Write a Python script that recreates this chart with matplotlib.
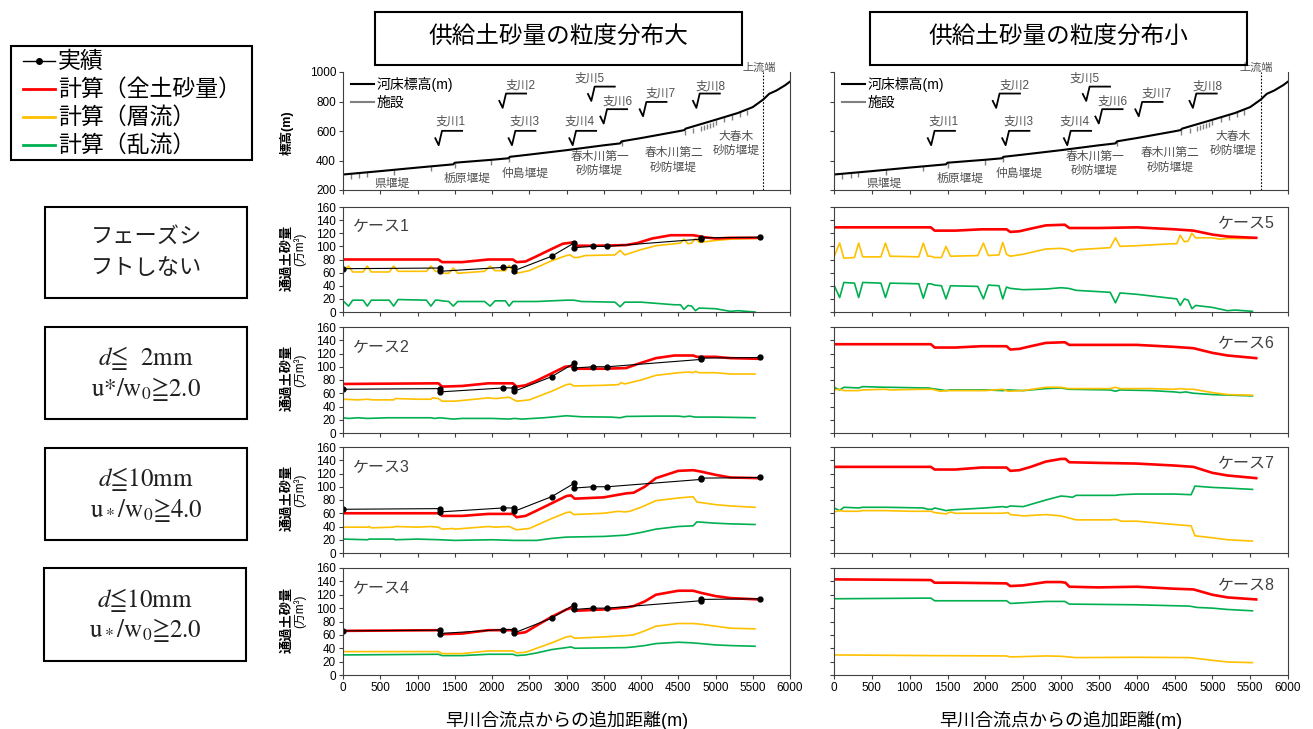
import matplotlib
matplotlib.use("Agg")
import matplotlib.pyplot as plt
from matplotlib.lines import Line2D
from matplotlib.patches import Rectangle

plt.rcParams['font.family'] = ['Liberation Sans', 'Noto Sans CJK JP', 'DejaVu Sans']
plt.rcParams['mathtext.fontset'] = 'stix'

W, H = 1313, 729
RED, YEL, GRN, GRAY = '#ff0000', '#ffc000', '#00b050', '#808080'

# ---- river profile (top panels) ----
bed = [(0, 305), (500, 328), (1000, 352), (1480, 374), (1500, 385), (2000, 405), (2220, 415),
       (2240, 425), (2500, 440), (3000, 470), (3500, 503), (3720, 516), (3740, 530), (4000, 552),
       (4500, 598), (4580, 606), (4600, 616), (5000, 676), (5300, 722), (5500, 762), (5640, 813),
       (5720, 852), (5820, 875), (5940, 912), (6000, 935)]
fac_x = [110, 220, 320, 690, 1180, 1500, 1990, 2230, 3740, 4590, 4700, 4800, 4840, 4880,
         4920, 4960, 5000, 5110, 5220, 5330, 5420]
fac_z = [310, 315, 320, 337, 361, 385, 405, 425, 530, 606, 622, 637, 643, 649, 655, 661,
         676, 693, 710, 728, 745]
upstream_end = 5640
branches = [('支川1', 1284, 504, 1450, 662), ('支川2', 2143, 757, 2389, 910),
            ('支川3', 2268, 504, 2434, 662), ('支川4', 3083, 504, 3177, 662),
            ('支川5', 3333, 804, 3306, 955), ('支川6', 3499, 651, 3687, 797),
            ('支川7', 4027, 700, 4264, 854), ('支川8', 4743, 757, 4935, 899)]
weirs = [('県堰堤', 658, 245), ('栃原堰堤', 1664, 279), ('仲島堰堤', 2447, 308),
         ('春木川第一\n砂防堰堤', 3445, 375), ('春木川第二\n砂防堰堤', 4438, 400),
         ('大春木\n砂防堰堤', 5280, 512)]

# ---- observed sediment (cases 1-4) ----
obs = [(0, 66), (1300, 67), (1300, 62), (2150, 68), (2300, 68), (2300, 63), (2800, 85),
       (3100, 105), (3100, 98), (3350, 100), (3550, 100), (4800, 111), (4800, 113), (5600, 114)]

# ---- computed: total (red), laminar (yellow), turbulent (green) ----
red1 = [(0, 80), (1280, 80), (1330, 76), (1600, 76), (1950, 80), (2280, 80), (2330, 76), (2450, 77),
        (2600, 85), (2800, 96), (2950, 104), (3080, 106), (3120, 101), (3400, 101), (3800, 102),
        (3950, 105), (4150, 112), (4400, 117), (4700, 117), (4850, 114), (5000, 112), (5200, 113), (5580, 113)]
yel1 = [(0, 63), (75, 70), (130, 61), (270, 61), (326, 70), (380, 61), (620, 61), (680, 70), (740, 62),
        (1120, 62), (1180, 70), (1240, 62), (1280, 62), (1330, 59), (1420, 59), (1480, 67), (1540, 59),
        (1900, 62), (1975, 70), (2040, 63), (2180, 63), (2230, 71), (2280, 62), (2330, 59), (2500, 63),
        (2800, 78), (3000, 86), (3050, 87), (3100, 83), (3150, 83), (3250, 86), (3650, 87), (3720, 94),
        (3780, 87), (4000, 95), (4200, 101), (4450, 104), (4530, 105), (4575, 111), (4630, 104),
        (4680, 105), (4730, 112), (4780, 106), (5000, 109), (5200, 111), (5530, 112)]
grn1 = [(0, 17), (75, 9), (130, 18), (270, 18), (326, 9), (380, 18), (620, 18), (680, 9), (740, 19),
        (1120, 18), (1180, 9), (1240, 18), (1280, 18), (1330, 17), (1420, 16), (1480, 9), (1540, 16),
        (1900, 16), (1975, 9), (2040, 17), (2180, 17), (2230, 9), (2280, 16), (2330, 16), (2600, 16),
        (2800, 17), (3000, 18), (3100, 18), (3200, 16), (3650, 15), (3720, 8), (3780, 15), (4000, 15),
        (4450, 11), (4530, 11), (4575, 4), (4630, 10), (4680, 9), (4730, 2), (4780, 6), (5000, 5),
        (5200, 1), (5300, 2), (5530, 0)]

red2 = [(0, 74), (1280, 75), (1330, 70), (1600, 71), (1950, 75), (2280, 75), (2330, 70), (2450, 72),
        (2600, 79), (2800, 90), (2980, 100), (3060, 101), (3110, 97), (3500, 97), (3800, 98), (3950, 104),
        (4200, 113), (4450, 117), (4700, 117), (4750, 115), (5000, 115), (5200, 113), (5580, 112)]
yel2 = [(0, 51), (200, 50), (330, 51), (400, 50), (680, 50), (700, 52), (1000, 51), (1180, 51),
        (1200, 53), (1280, 52), (1330, 48), (1500, 48), (1950, 53), (2050, 52), (2230, 54), (2330, 48),
        (2500, 50), (2800, 63), (3000, 73), (3050, 74), (3100, 71), (3500, 72), (3700, 73), (3730, 76),
        (3780, 74), (4000, 80), (4200, 87), (4500, 91), (4650, 92), (4700, 91), (4730, 93), (4780, 91),
        (5000, 91), (5200, 89), (5530, 89)]
grn2 = [(0, 23), (75, 22), (200, 23), (326, 22), (600, 23), (1180, 23), (1230, 22), (1300, 23),
        (1480, 21), (1600, 22), (2000, 22), (2230, 21), (2300, 22), (2400, 21), (2700, 23), (3000, 26),
        (3200, 24.5), (3600, 24), (3720, 23), (3800, 25), (4200, 25.5), (4500, 25.5), (4580, 24.5),
        (4650, 25.5), (4730, 24), (5000, 24), (5530, 23)]

red3 = [(0, 60), (1280, 60), (1330, 56), (1600, 56), (1950, 59), (2280, 59), (2330, 54), (2450, 56),
        (2600, 64), (2800, 75), (3000, 86), (3060, 87), (3110, 82), (3500, 84), (3800, 90), (3900, 91),
        (4050, 100), (4200, 113), (4500, 124), (4700, 125), (4800, 123), (5000, 118), (5200, 114), (5580, 113)]
yel3 = [(0, 39), (330, 39), (350, 40), (380, 38), (680, 39), (700, 40), (1000, 39), (1180, 40),
        (1280, 39), (1330, 36), (1480, 37), (1500, 36), (1950, 40), (2050, 39), (2230, 40), (2330, 35),
        (2500, 37), (2600, 42), (2800, 52), (3000, 61), (3050, 62), (3100, 58), (3500, 60), (3700, 63),
        (3780, 62), (3850, 63), (4000, 69), (4200, 79), (4500, 83), (4700, 85), (4750, 77), (5000, 73),
        (5200, 71), (5530, 69)]
grn3 = [(0, 21), (330, 20), (350, 21), (680, 21), (700, 20), (1000, 21), (1300, 20), (1500, 19),
        (2000, 20), (2300, 19), (2600, 19), (2800, 22), (3000, 24), (3500, 25), (3800, 27), (4000, 31),
        (4200, 36), (4500, 40), (4700, 41), (4750, 47), (5000, 45), (5200, 44), (5530, 43)]

red4 = [(0, 66), (1280, 67), (1330, 61), (1600, 62), (1950, 67), (2280, 67), (2330, 62), (2450, 64),
        (2600, 74), (2800, 87), (3000, 98), (3060, 100), (3110, 96), (3500, 98), (3800, 101), (3900, 103),
        (4050, 110), (4200, 120), (4500, 126), (4700, 126), (4800, 123), (5000, 118), (5200, 115), (5580, 113)]
yel4 = [(0, 35), (1280, 35), (1330, 32), (1600, 32), (1950, 36), (2280, 36), (2330, 33), (2450, 34),
        (2600, 40), (2800, 48), (3000, 57), (3060, 58), (3110, 55), (3500, 57), (3800, 59), (3900, 60),
        (4050, 66), (4200, 73), (4500, 77), (4700, 77), (4800, 76), (5000, 73), (5200, 70), (5530, 69)]
grn4 = [(0, 30), (1280, 31), (1330, 29), (1600, 29), (1950, 31), (2280, 31), (2330, 29), (2450, 30),
        (2600, 33), (2800, 38), (3000, 41), (3060, 42), (3110, 40), (3500, 40.5), (3800, 41), (3900, 42),
        (4050, 44), (4200, 47), (4500, 49), (4700, 48), (4800, 47), (5000, 45), (5200, 44), (5530, 43)]

red5 = [(0, 129), (1280, 129), (1330, 124), (1600, 124), (1950, 126), (2280, 126), (2330, 122),
        (2450, 123), (2600, 127), (2800, 132), (3050, 133), (3110, 128), (3500, 128), (4000, 129),
        (4500, 126), (4750, 124), (5000, 118), (5200, 115), (5580, 113)]
yel5 = [(0, 84), (75, 105), (130, 82), (270, 83), (326, 105), (380, 84), (620, 84), (680, 105),
        (740, 85), (1120, 84), (1180, 105), (1240, 85), (1280, 85), (1330, 83), (1420, 83), (1480, 100),
        (1540, 85), (1900, 86), (1975, 105), (2040, 86), (2180, 87), (2230, 106), (2280, 88), (2330, 85),
        (2500, 88), (2800, 96), (3000, 97), (3100, 95), (3150, 92), (3220, 95), (3650, 98), (3720, 113),
        (3780, 100), (4000, 101), (4450, 104), (4530, 104), (4575, 117), (4630, 107), (4680, 108),
        (4730, 120), (4780, 113), (5000, 113), (5100, 111), (5200, 112), (5530, 112)]
grn5 = [(0, 41), (75, 22), (130, 45), (270, 44), (326, 22), (380, 45), (620, 44), (680, 22), (740, 44),
        (1120, 43), (1180, 21), (1240, 43), (1280, 43), (1330, 41), (1420, 40), (1480, 20), (1540, 40),
        (1900, 39), (1975, 20), (2040, 41), (2180, 40), (2230, 20), (2280, 38), (2330, 36), (2500, 34),
        (2800, 35), (3000, 37), (3100, 36), (3200, 33), (3650, 30), (3720, 14), (3780, 29), (4000, 27),
        (4450, 21), (4530, 20), (4575, 10), (4630, 20), (4680, 18), (4730, 5), (4780, 10), (5000, 7),
        (5200, 2), (5300, 3), (5530, 1)]

red6 = [(0, 134), (1280, 134), (1330, 129), (1600, 129), (1950, 131), (2280, 131), (2330, 126),
        (2450, 127), (2600, 131), (2800, 136), (3050, 137), (3110, 133), (3500, 133), (4000, 133),
        (4500, 130), (4750, 128), (5000, 121), (5200, 117), (5580, 113)]
yel6 = [(0, 65), (75, 66), (130, 64), (326, 64), (380, 65), (680, 66), (740, 65), (1180, 66), (1300, 66),
        (1400, 63), (1500, 64), (2000, 64), (2230, 66), (2300, 63), (2500, 64), (2800, 69), (3000, 69),
        (3100, 67), (3650, 67), (3720, 69), (3780, 67), (4200, 67), (4500, 66), (4575, 67), (4650, 66),
        (4750, 66), (5000, 61), (5200, 58), (5530, 57)]
grn6 = [(0, 69), (75, 65), (130, 69), (326, 68), (380, 70), (680, 69), (740, 69), (1180, 68), (1240, 68),
        (1300, 67), (1480, 64), (1540, 65), (2000, 65), (2230, 64), (2300, 65), (2500, 64), (2800, 67),
        (3000, 68), (3100, 66), (3650, 65), (3720, 63), (3780, 65), (4200, 64), (4500, 62), (4575, 61),
        (4650, 62), (4750, 60), (5000, 58), (5530, 56)]

red7 = [(0, 130), (1280, 130), (1330, 126), (1600, 126), (1950, 129), (2280, 129), (2330, 124),
        (2450, 125), (2600, 130), (2800, 138), (3000, 142), (3060, 142), (3110, 137), (3500, 136),
        (4000, 135), (4500, 132), (4750, 130), (5000, 121), (5200, 117), (5580, 113)]
yel7 = [(0, 62), (75, 64), (130, 63), (326, 63), (380, 64), (680, 64), (1000, 63), (1280, 63), (1330, 61),
        (1480, 59), (1540, 62), (1600, 60), (1950, 60), (2230, 60), (2300, 61), (2330, 58), (2500, 56),
        (2800, 58), (3000, 56), (3100, 53), (3200, 50), (3650, 50), (3720, 51), (3800, 48), (4000, 48),
        (4300, 45), (4500, 43), (4720, 41), (4770, 26), (5000, 23), (5200, 20), (5530, 18)]
grn7 = [(0, 68), (75, 64), (130, 69), (326, 68), (380, 69), (680, 69), (1180, 68), (1240, 66), (1300, 66),
        (1330, 68), (1480, 64), (1540, 65), (2000, 68), (2230, 70), (2280, 69), (2330, 71), (2500, 70),
        (2800, 80), (3000, 86), (3100, 85), (3150, 84), (3200, 87), (3650, 87), (3720, 87), (3780, 88),
        (4000, 89), (4500, 89), (4720, 88), (4770, 101), (5000, 99), (5200, 98), (5530, 96)]

red8 = [(0, 143), (1280, 142), (1330, 138), (1600, 138), (2280, 137), (2330, 133), (2500, 134),
        (2800, 139), (3000, 139), (3060, 138), (3110, 132), (3500, 131), (4000, 132), (4500, 129),
        (4750, 128), (5000, 120), (5200, 116), (5580, 113)]
grn8 = [(0, 114), (1280, 115), (1330, 111), (2280, 111), (2330, 107), (2500, 108), (2800, 110),
        (3050, 110), (3110, 106), (4000, 105), (4700, 103), (4800, 101), (5000, 100), (5200, 98), (5530, 96)]
yel8 = [(0, 30), (1300, 29), (2280, 28.5), (2330, 27), (2800, 28.5), (3000, 28), (3200, 26),
        (4000, 26.5), (4700, 26), (5000, 22), (5200, 19.5), (5530, 18.5)]

cases = [(red1, yel1, grn1), (red2, yel2, grn2), (red3, yel3, grn3), (red4, yel4, grn4),
         (red5, yel5, grn5), (red6, yel6, grn6), (red7, yel7, grn7), (red8, yel8, grn8)]
case_names = ['ケース1', 'ケース2', 'ケース3', 'ケース4', 'ケース5', 'ケース6', 'ケース7', 'ケース8']
titles = ['供給土砂量の粒度分布大', '供給土砂量の粒度分布小']
legend_labels = ['実績', '計算（全土砂量）', '計算（層流）', '計算（乱流）']
conditions = [['フェーズシ', 'フトしない'],
              [r'$d$≦  2mm', r'u$*$/w$_0$≧2.0'],
              [r'$d$≦10mm', r'u$_*$/w$_0$≧4.0'],
              [r'$d$≦10mm', r'u$_*$/w$_0$≧2.0']]
xlabel = '早川合流点からの追加距離(m)'

cols = [(343, 790), (834, 1288)]
top_rows = (72, 190)
rows = [(207, 312), (327, 433), (447, 553), (568, 675)]

fig = plt.figure(figsize=(W / 100, H / 100), dpi=100)


def px_axes(x0, y0, x1, y1):
    return fig.add_axes([x0 / W, 1 - y1 / H, (x1 - x0) / W, (y1 - y0) / H])


def px_box(x0, y0, x1, y1, lw=1.5):
    fig.add_artist(Rectangle((x0 / W, 1 - y1 / H), (x1 - x0) / W, (y1 - y0) / H,
                             transform=fig.transFigure, fill=False, ec='black', lw=lw))


def style(ax, show_y, show_x):
    ax.set_xlim(0, 6000)
    ax.set_xticks(range(0, 6001, 500))
    ax.tick_params(direction='out', length=3, width=0.8, colors='#404040',
                   labelsize=8.5, labelcolor='black', pad=2)
    if not show_y:
        ax.tick_params(labelleft=False)
    if not show_x:
        ax.tick_params(labelbottom=False)
    for s in ax.spines.values():
        s.set_color('#404040')
        s.set_linewidth(0.8)


def xy(pts):
    return [p[0] for p in pts], [p[1] for p in pts]


for ci, (cx0, cx1) in enumerate(cols):
    # elevation profile
    ax = px_axes(cx0, top_rows[0], cx1, top_rows[1])
    bx, bz = xy(bed)
    ax.vlines(fac_x, [z - 35 for z in fac_z], fac_z, color=GRAY, lw=1.0)
    ax.plot(bx, bz, color='black', lw=1.5)
    ax.axvline(upstream_end, color='black', lw=0.8, ls=(0, (1.5, 1.5)))
    for name, x0, y0, lx, ly in branches:
        ax.plot([x0 - 45, x0, x0 + 45, x0 + 315], [y0 + 47, y0, y0 + 97, y0 + 97],
                color='black', lw=1.3)
        ax.text(lx, ly, name, fontsize=8.5, color='#505050', ha='center', va='center')
    for name, wx, wy in weirs:
        ax.text(wx, wy, name, fontsize=8.5, color='#505050', ha='center', va='center',
                linespacing=1.25)
    ax.text(5580, 1030, '上流端', fontsize=8, color='#505050', ha='center', va='center',
            clip_on=False)
    ax.set_ylim(200, 1000)
    ax.set_yticks(range(200, 1001, 200))
    style(ax, ci == 0, False)
    ax.spines['top'].set_visible(False)
    ax.legend(handles=[Line2D([], [], color='black', lw=1.5), Line2D([], [], color=GRAY, lw=1.5)],
              labels=['河床標高(m)', '施設'], loc='upper left', bbox_to_anchor=(0.0, 1.03),
              frameon=False, fontsize=10, handlelength=1.6, handletextpad=0.2,
              labelspacing=0.3, borderaxespad=0.2)
    if ci == 0:
        fig.text(287 / W, 1 - 133 / H, '標高(m)', rotation=90, ha='center', va='center',
                 fontsize=9, fontweight='bold')

    for ri, (ry0, ry1) in enumerate(rows):
        k = ci * 4 + ri
        red, yel, grn = cases[k]
        ax = px_axes(cx0, ry0, cx1, ry1)
        ax.plot(*xy(grn), color=GRN, lw=1.2)
        ax.plot(*xy(yel), color=YEL, lw=1.2)
        ax.plot(*xy(red), color=RED, lw=1.9)
        if ci == 0:
            ox, oy = xy(obs)
            ax.plot(ox, oy, color='black', lw=0.8, marker='o', ms=3.5)
            ax.text(0.022, 0.81, case_names[k], transform=ax.transAxes, ha='left',
                    va='center', fontsize=11.5, color='#404040')
            yc = (ry0 + ry1) / 2
            fig.text(287 / W, 1 - (yc - 2) / H, '通過土砂量', rotation=90, ha='center',
                     va='center', fontsize=9.5, fontweight='bold')
            fig.text(300 / W, 1 - (yc - 10) / H, '(万m³)', rotation=90, ha='center',
                     va='center', fontsize=8.5)
        else:
            ax.text(0.972, 0.84, case_names[k], transform=ax.transAxes, ha='right',
                    va='center', fontsize=11.5, color='#404040')
        ax.set_ylim(0, 160)
        ax.set_yticks(range(0, 161, 20))
        style(ax, ci == 0, ri == 3)

    fig.text((cx0 + cx1) / 2 / W, 1 - 720 / H, xlabel, ha='center', va='center', fontsize=13)

# title boxes
px_box(375, 12, 742, 65)
fig.text(558 / W, 1 - 38 / H, titles[0], ha='center', va='center', fontsize=17)
px_box(870, 12, 1247, 65)
fig.text(1058 / W, 1 - 38 / H, titles[1], ha='center', va='center', fontsize=17)

# legend box top-left
px_box(11, 46, 252, 160)
leg_colors = ['black', RED, YEL, GRN]
for i, (lab, c) in enumerate(zip(legend_labels, leg_colors)):
    yy = 1 - (61 + 28 * i) / H
    fig.add_artist(Line2D([23 / W, 55 / W], [yy, yy], transform=fig.transFigure, color=c,
                          lw=1.0 if i == 0 else 2.0))
    if i == 0:
        fig.add_artist(Line2D([39 / W], [yy], transform=fig.transFigure, color='black',
                              marker='o', ms=4))
    fig.text(58 / W, yy, lab, ha='left', va='center', fontsize=16.5)

# condition boxes
cond_boxes = [(45, 207, 247, 298), (45, 327, 247, 419), (45, 448, 247, 540), (44, 568, 246, 661)]
for bi, ((x0, y0, x1, y1), lines) in enumerate(zip(cond_boxes, conditions)):
    px_box(x0, y0, x1, y1)
    xc = (x0 + x1) / 2
    ym = (y0 + y1) / 2
    for j, t in enumerate(lines):
        if bi == 0:
            fig.text(xc / W, 1 - (ym - 15 + 31 * j) / H, t, ha='center', va='center',
                     fontsize=16, color='#202020')
        else:
            fig.text(xc / W, 1 - (ym - 15 + 31 * j) / H, t, ha='center', va='center',
                     fontsize=18, color='#202020',
                     family=['STIXGeneral', 'Noto Sans CJK JP'])

fig.savefig('out.png', dpi=100)
